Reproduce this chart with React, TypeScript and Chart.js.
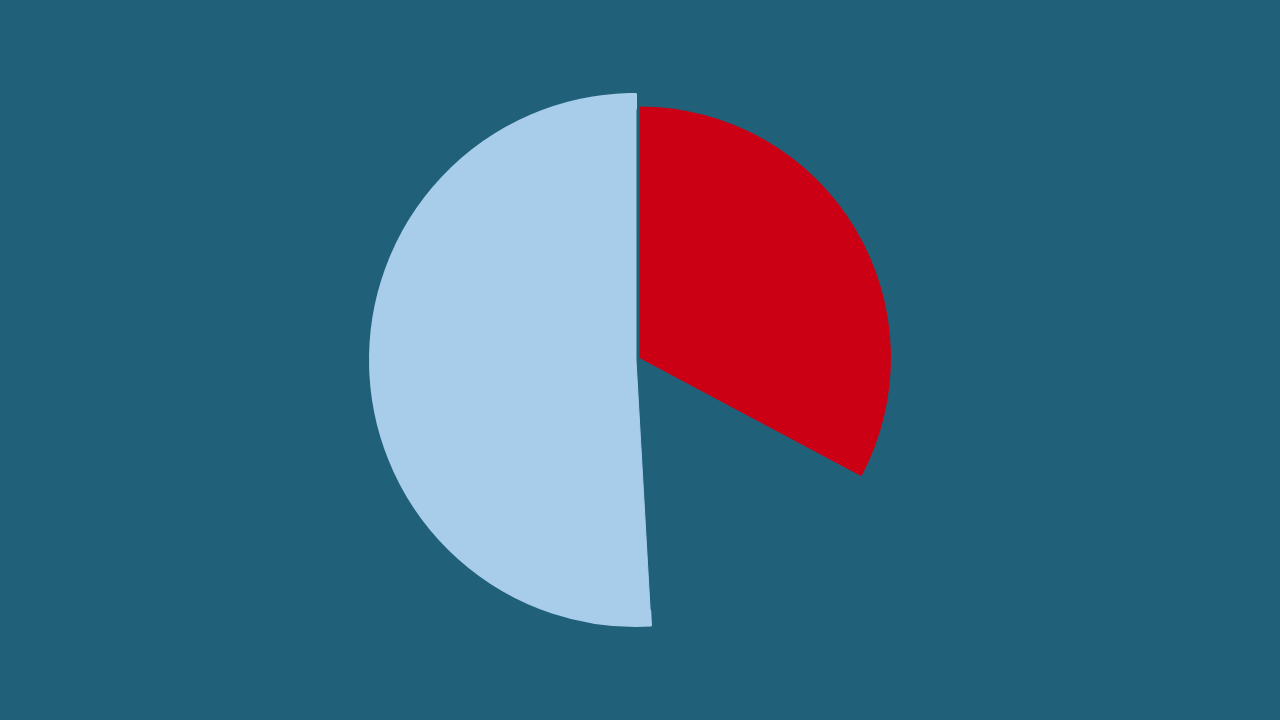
import { useEffect, useRef } from "react"
import { Chart, registerables } from "chart.js"

Chart.register(...registerables)

// slice shares in percent, clockwise from 12 o'clock
const sliceLabels = ["Red", "Hidden", "Light blue"]
const innerValues = [32.8, 16.3, 50.9]
const outerValues = [32.8, 16.3, 50.9]

const BG = "#216079"
const RED = "#cc0014"
const LIGHT_BLUE = "#a7cdea"

export default function App() {
  const chartRef = useRef<HTMLCanvasElement>(null)
  const chartInstance = useRef<Chart | null>(null)

  useEffect(() => {
    if (!chartRef.current) return
    if (chartInstance.current) chartInstance.current.destroy()

    const ctx = chartRef.current.getContext("2d")
    if (!ctx) return

    chartInstance.current = new Chart(ctx, {
      type: "pie",
      data: {
        labels: sliceLabels,
        datasets: [
          // thin outer band: only the light blue slice reaches out here
          {
            data: outerValues,
            weight: 15,
            backgroundColor: ["rgba(0,0,0,0)", "rgba(0,0,0,0)", LIGHT_BLUE],
            borderColor: ["rgba(0,0,0,0)", "rgba(0,0,0,0)", LIGHT_BLUE],
            borderWidth: [0, 0, 2],
          },
          {
            data: innerValues,
            weight: 251,
            backgroundColor: [RED, "rgba(0,0,0,0)", LIGHT_BLUE],
            borderColor: [RED, "rgba(0,0,0,0)", LIGHT_BLUE],
            borderWidth: [0, 0, 1],
            // pulls the red slice a few pixels away from the centre
            offset: [16.3, 0, 0],
          },
        ],
      },
      options: {
        responsive: true,
        maintainAspectRatio: false,
        animation: false,
        events: [],
        radius: 266,
        layout: { padding: { left: 0, right: 8, top: 0, bottom: 0 } },
        plugins: {
          legend: { display: false },
          tooltip: { enabled: false },
        },
      } as any,
    })

    return () => {
      if (chartInstance.current) {
        chartInstance.current.destroy()
        chartInstance.current = null
      }
    }
  }, [])

  return (
    <div
      style={{
        position: "fixed",
        left: 0,
        top: 0,
        width: 1280,
        height: 720,
        background: BG,
      }}
    >
      <canvas ref={chartRef} />
    </div>
  )
}
